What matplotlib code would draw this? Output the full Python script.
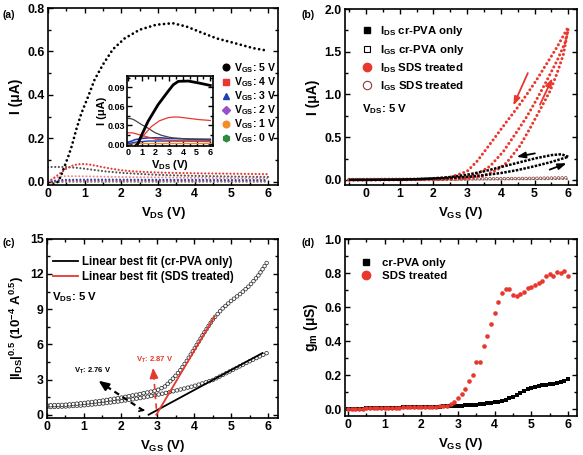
import numpy as np
import matplotlib
matplotlib.use('Agg')
import matplotlib.pyplot as plt
from matplotlib.lines import Line2D
from matplotlib.ticker import MultipleLocator, FormatStrFormatter

plt.rcParams['font.family'] = ['Liberation Sans', 'DejaVu Sans']
plt.rcParams['font.weight'] = 'bold'
plt.rcParams['axes.labelweight'] = 'bold'
plt.rcParams['mathtext.fontset'] = 'custom'
plt.rcParams['mathtext.rm'] = 'Liberation Sans:bold'
plt.rcParams['mathtext.it'] = 'Liberation Sans:bold'
plt.rcParams['mathtext.bf'] = 'Liberation Sans:bold'
plt.rcParams['lines.scale_dashes'] = False

RED = '#e8372c'

# ---- (a) output curves, I vs V_DS ----
a_vds_5 = [0.15, 0.25, 0.35, 0.45, 0.55, 0.65, 0.77, 0.91, 1.09, 1.27, 1.5, 1.77, 2.09, 2.5, 2.95, 3.4, 3.77, 4.14, 4.6, 5.05, 5.6, 6.0]
a_i_5 = [-0.012, -0.004, 0.025, 0.07, 0.115, 0.165, 0.24, 0.315, 0.39, 0.47, 0.54, 0.61, 0.66, 0.70, 0.723, 0.73, 0.715, 0.69, 0.66, 0.64, 0.615, 0.603]
a_vds_4 = [0.0, 0.1, 0.27, 0.5, 0.7, 0.91, 1.1, 1.3, 1.5, 1.73, 2.0, 2.3, 2.64, 3.1, 4.0, 5.0, 6.0]
a_i_4 = [0.005, 0.01, 0.031, 0.06, 0.077, 0.082, 0.08, 0.074, 0.067, 0.06, 0.053, 0.048, 0.045, 0.042, 0.039, 0.037, 0.035]
a_vds_g = [0.0, 0.5, 0.8, 1.0, 1.27, 1.6, 2.1, 2.6, 3.1, 4.0, 5.0, 6.0]
a_i_g = [0.068, 0.068, 0.064, 0.06, 0.054, 0.047, 0.04, 0.035, 0.031, 0.027, 0.024, 0.022]
a_vds_low = [0.0, 0.15, 0.3, 0.5, 1.0, 2.0, 3.0, 4.0, 5.0, 6.0]
a_i_pink = [0.0, 0.015, 0.024, 0.026, 0.025, 0.022, 0.02, 0.018, 0.016, 0.015]
a_i_3 = [0.0, 0.004, 0.008, 0.009, 0.01, 0.01, 0.009, 0.009, 0.008, 0.008]
a_i_2 = [0.0, 0.002, 0.004, 0.005, 0.005, 0.005, 0.005, 0.004, 0.004, 0.004]
a_i_1 = [0.0, 0.001, 0.001, 0.002, 0.002, 0.002, 0.002, 0.002, 0.002, 0.002]
a_i_0 = [-0.002, -0.001, -0.001, 0.0, 0.0, 0.0, 0.0, 0.0, 0.0, 0.0]
a_labels = ['5', '4', '3', '2', '1', '0']

# inset
in_vds_k = [0.7, 0.75, 1.0, 1.47, 2.2, 2.94, 3.3, 3.67, 4.4, 5.13, 6.0]
in_i_k = [0.0, 0.0016, 0.014, 0.036, 0.0625, 0.084, 0.094, 0.0995, 0.1, 0.097, 0.093]
in_vds_r = [0.7, 1.0, 1.72, 2.3, 2.94, 3.3, 3.67, 4.4, 5.13, 6.0]
in_i_r = [0.0, 0.01, 0.028, 0.037, 0.042, 0.043, 0.043, 0.041, 0.039, 0.0375]
in_vds_f = [0.0, 0.3, 0.5, 1.0, 1.5, 1.7, 2.0, 2.45, 3.0, 3.4, 4.5, 6.0]
in_i_kf = [0.041, 0.040, 0.038, 0.031, 0.025, 0.022, 0.018, 0.014, 0.011, 0.0095, 0.008, 0.008]
in_i_rf = [0.018, 0.018, 0.017, 0.014, 0.011, 0.010, 0.008, 0.007, 0.006, 0.006, 0.005, 0.004]
in_i_b1 = [0.003, 0.005, 0.007, 0.009, 0.010, 0.010, 0.010, 0.010, 0.009, 0.009, 0.008, 0.007]
in_i_b2 = [0.001, 0.002, 0.003, 0.004, 0.005, 0.005, 0.005, 0.005, 0.005, 0.005, 0.005, 0.005]
in_i_o = [0.0, 0.001, 0.001, 0.001, 0.001, 0.001, 0.001, 0.001, 0.001, 0.001, 0.001, 0.001]

# ---- (b) transfer curves ----
b_vgs_fwd_pva = [-0.5, 0.0, 1.0, 1.5, 2.0, 2.5, 3.0, 3.5, 4.0, 4.5, 5.0, 5.5, 6.0]
b_ids_fwd_pva = [0.0, 0.0, 0.003, 0.008, 0.015, 0.022, 0.035, 0.055, 0.08, 0.115, 0.16, 0.21, 0.27]
b_vgs_rev_pva = [6.0, 5.8, 5.5, 5.0, 4.5, 4.0, 3.5, 3.0, 2.5, 2.0, 1.5, 1.0, 0.0, -0.5]
b_ids_rev_pva = [0.27, 0.30, 0.29, 0.25, 0.20, 0.15, 0.10, 0.06, 0.033, 0.018, 0.008, 0.003, 0.0, 0.0]
b_vgs_red1 = [-0.5, 2.0, 2.5, 3.0, 3.3, 3.7, 4.17, 4.5, 4.77, 5.06, 5.36, 5.66, 5.9, 6.0]
b_ids_red1 = [0.0, 0.005, 0.03, 0.10, 0.22, 0.43, 0.68, 0.85, 1.0, 1.17, 1.36, 1.55, 1.72, 1.79]
b_vgs_red2 = [-0.5, 2.5, 3.0, 3.3, 3.68, 4.07, 4.47, 4.77, 5.06, 5.36, 5.66, 5.9, 6.0]
b_ids_red2 = [0.0, 0.005, 0.03, 0.07, 0.16, 0.33, 0.56, 0.74, 0.94, 1.16, 1.39, 1.6, 1.77]
b_vgs_red3 = [-0.5, 2.5, 3.0, 3.5, 3.9, 4.17, 4.57, 4.86, 5.16, 5.46, 5.66, 5.85, 6.0]
b_ids_red3 = [0.0, 0.003, 0.015, 0.05, 0.12, 0.2, 0.4, 0.6, 0.82, 1.04, 1.24, 1.46, 1.77]
b_vgs_gate = [-0.5, 1.0, 2.0, 3.0, 4.0, 5.0, 6.0]
b_igs_pva = [0.0, 0.0, 0.002, 0.004, 0.006, 0.008, 0.01]
b_igs_sds = [0.005, 0.007, 0.009, 0.012, 0.015, 0.019, 0.025]

# ---- (c) sqrt(I_DS) vs V_GS ----
c_vgs_sds = [0.0, 0.5, 1.0, 1.5, 2.0, 2.5, 2.8, 3.0, 3.2, 3.4, 3.6, 3.8, 4.0, 4.25, 4.5, 4.75, 5.0, 5.25, 5.5, 5.75, 6.0]
c_sds = [0.8, 0.85, 1.0, 1.2, 1.45, 1.75, 1.95, 2.1, 2.4, 3.0, 3.7, 4.6, 5.6, 6.9, 8.1, 9.0, 9.7, 10.3, 11.0, 11.9, 13.1]
c_vgs_pva = [0.0, 0.5, 1.0, 1.5, 2.0, 2.5, 3.0, 3.5, 4.0, 4.5, 5.0, 5.5, 6.0]
c_pva = [0.65, 0.7, 0.8, 0.95, 1.15, 1.4, 1.7, 2.05, 2.45, 2.95, 3.75, 4.55, 5.3]
vt_pva, slope_pva, end_pva = 2.76, 1.7, 5.85
vt_sds, slope_sds, end_sds = 2.97, 5.3, 4.55

# ---- (d) transconductance ----
d_vgs = np.round(np.arange(61) * 0.1, 1)
d_pva = [0.000, 0.000, 0.002, 0.003, 0.004, 0.005, 0.005, 0.006, 0.006, 0.007,
         0.007, 0.008, 0.008, 0.009, 0.009, 0.010, 0.010, 0.011, 0.011, 0.012,
         0.012, 0.013, 0.013, 0.014, 0.014, 0.015, 0.016, 0.017, 0.018, 0.019,
         0.020, 0.021, 0.022, 0.024, 0.025, 0.027, 0.029, 0.031, 0.034, 0.037,
         0.041, 0.045, 0.050, 0.056, 0.063, 0.072, 0.082, 0.095, 0.108, 0.118,
         0.126, 0.132, 0.136, 0.140, 0.143, 0.146, 0.150, 0.155, 0.161, 0.168,
         0.176]
d_sds = [0.000, 0.001, 0.002, 0.003, 0.004, 0.005, 0.005, 0.006, 0.006, 0.007,
         0.007, 0.008, 0.008, 0.009, 0.009, 0.010, 0.010, 0.011, 0.012, 0.012,
         0.013, 0.013, 0.014, 0.014, 0.015, 0.016, 0.017, 0.020, 0.028, 0.042,
         0.065, 0.090, 0.120, 0.165, 0.200, 0.280, 0.278, 0.370, 0.430, 0.500,
         0.565, 0.632, 0.680, 0.706, 0.708, 0.672, 0.668, 0.675, 0.690, 0.715,
         0.718, 0.728, 0.742, 0.755, 0.780, 0.796, 0.782, 0.806, 0.800, 0.810,
         0.780]


def dotted(ax, x, y, color, size, pitch, shape='round', zorder=2):
    on = 0.01 if shape == 'round' else size
    ax.plot(x, y, color=color, lw=size, ls=(0, (on, pitch - on)),
            dash_capstyle='round' if shape == 'round' else 'butt', zorder=zorder)


def rings(ax, x, y, color, size, pitch, edge=0.5, zorder=2):
    dotted(ax, x, y, color, size, pitch, zorder=zorder)
    dotted(ax, x, y, 'white', size - 2 * edge, pitch, zorder=zorder)


def style(ax, xlim, ylim, xmaj, ymaj, yfmt, lsize=8.8):
    ax.set_xlim(*xlim)
    ax.set_ylim(*ylim)
    ax.xaxis.set_major_locator(MultipleLocator(xmaj))
    ax.xaxis.set_minor_locator(MultipleLocator(xmaj / 2))
    ax.yaxis.set_major_locator(MultipleLocator(ymaj))
    ax.yaxis.set_minor_locator(MultipleLocator(ymaj / 2))
    ax.yaxis.set_major_formatter(FormatStrFormatter(yfmt))
    ax.tick_params(which='both', direction='in', top=True, right=True, labelsize=lsize, width=1)
    ax.tick_params(which='major', length=3.5, pad=2.5)
    ax.tick_params(which='minor', length=2)
    for s in ax.spines.values():
        s.set_linewidth(1.2)


fig = plt.figure(figsize=(5.83, 4.55), dpi=100)
ax_a = fig.add_axes([0.0823, 0.5934, 0.3945, 0.389])
ax_b = fig.add_axes([0.5918, 0.5934, 0.398, 0.3868])
ax_c = fig.add_axes([0.0806, 0.0813, 0.396, 0.394])
ax_d = fig.add_axes([0.5918, 0.0857, 0.398, 0.389])

# ---------- (a) ----------
ax = ax_a
for y, c in [(a_i_0, '#2e8b3e'), (a_i_1, '#f28c28'), (a_i_2, '#9b4fc4'), (a_i_3, '#1f3fb5')]:
    dotted(ax, a_vds_low, y, c, 1.5, 2.6)
dotted(ax, a_vds_low, a_i_pink, '#f08a80', 1.5, 2.6)
dotted(ax, a_vds_g, a_i_g, '#555555', 1.6, 2.6)
dotted(ax, a_vds_4, a_i_4, RED, 1.6, 2.6)
dotted(ax, a_vds_5, a_i_5, 'black', 2.0, 3.4)
style(ax, (0, 6.27), (-0.015, 0.8), 1, 0.2, '%.1f')
ax.set_xlabel('V$_{DS}$ (V)', fontsize=9.5, labelpad=3)
ax.set_ylabel('I (\u03bcA)', fontsize=10, labelpad=3)
mk = ['o', 's', '^', 'D', 'o', 'h']
cols = ['black', RED, '#1f3fb5', '#9b4fc4', '#f28c28', '#2e8b3e']
hs = [Line2D([], [], ls='none', marker=m, color=c, ms=4.8 if m != 'D' else 4) for m, c in zip(mk, cols)]
ax.legend(hs, ['V$_{GS}$: %s V' % v for v in a_labels], loc='upper left',
          bbox_to_anchor=(0.755, 0.70), frameon=False, fontsize=7.6, handlelength=0.8,
          handletextpad=0.35, labelspacing=0.03, borderpad=0, borderaxespad=0)

ins = fig.add_axes([0.218, 0.679, 0.1475, 0.154])
ins.plot(in_vds_f, in_i_o, color='#f28c28', lw=1)
ins.plot(in_vds_f, in_i_b2, color='#1f3fb5', lw=1)
ins.plot(in_vds_f, in_i_b1, color='#1f3fb5', lw=1.2)
ins.plot(in_vds_f, in_i_rf, color=RED, lw=0.9)
ins.plot(in_vds_f, in_i_kf, color='#444444', lw=0.9)
ins.plot(in_vds_r, in_i_r, color=RED, lw=0.9)
ins.plot(in_vds_k, in_i_k, color='black', lw=2)
style(ins, (-0.05, 6.2), (-0.003, 0.108), 1, 0.03, '%.2f', lsize=6.5)
ins.yaxis.set_minor_locator(MultipleLocator(0.015))
ins.tick_params(which='both', pad=1.5)
ins.set_xlabel('V$_{DS}$ (V)', fontsize=8, labelpad=0.5)
ins.set_ylabel('I (\u03bcA)', fontsize=8, labelpad=0.5)

# ---------- (b) ----------
ax = ax_b
dotted(ax, b_vgs_gate, b_igs_pva, '#777777', 1.4, 2.6, shape='square')
rings(ax, b_vgs_gate, b_igs_sds, '#8b3a3a', 2.4, 2.6, edge=0.5)
dotted(ax, b_vgs_red1, b_ids_red1, RED, 2.2, 3.2)
dotted(ax, b_vgs_red2, b_ids_red2, RED, 2.2, 3.2)
dotted(ax, b_vgs_red3, b_ids_red3, RED, 2.2, 3.2)
dotted(ax, b_vgs_fwd_pva, b_ids_fwd_pva, 'black', 1.8, 2.8, shape='square')
dotted(ax, b_vgs_rev_pva, b_ids_rev_pva, 'black', 1.8, 2.8, shape='square')
style(ax, (-0.62, 6.26), (-0.06, 2.0), 1, 0.5, '%.1f')
ax.set_xlabel('V$_{GS}$ (V)', fontsize=9.5, labelpad=3)
ax.set_ylabel('I (\u03bcA)', fontsize=10, labelpad=3)
arr = dict(arrowstyle='-|>,head_length=0.5,head_width=0.18', lw=1.3, shrinkA=0, shrinkB=0)
ax.annotate('', xy=(4.37, 0.87), xytext=(4.8, 1.25), arrowprops=dict(color=RED, **arr))
ax.annotate('', xy=(5.53, 1.19), xytext=(5.16, 0.88), arrowprops=dict(color=RED, **arr))
ax.annotate('', xy=(4.47, 0.27), xytext=(5.01, 0.31), arrowprops=dict(color='black', **arr))
ax.annotate('', xy=(5.95, 0.195), xytext=(5.45, 0.12), arrowprops=dict(color='black', **arr))
hs = [Line2D([], [], ls='none', marker='s', color='black', ms=5),
      Line2D([], [], ls='none', marker='s', mfc='white', mec='black', ms=5, mew=0.8),
      Line2D([], [], ls='none', marker='o', color=RED, ms=6),
      Line2D([], [], ls='none', marker='o', mfc='white', mec='#8b3a3a', ms=6, mew=0.8)]
ax.legend(hs, ['I$_{DS}$ cr-PVA only', 'I$_{GS}$ cr-PVA only', 'I$_{DS}$ SDS treated', 'I$_{GS}$ SDS treated'],
          loc='upper left', bbox_to_anchor=(0.075, 0.915), frameon=False, fontsize=8.2,
          handlelength=0.8, handletextpad=0.7, labelspacing=0.4, borderpad=0, borderaxespad=0)
ax.text(0.073, 0.43, 'V$_{DS}$: 5 V', transform=ax.transAxes, fontsize=8.2, va='center')

# ---------- (c) ----------
ax = ax_c
rings(ax, c_vgs_pva, c_pva, '#333333', 3.2, 2.7, edge=0.55)
rings(ax, c_vgs_sds, c_sds, '#333333', 3.2, 2.7, edge=0.55)
ax.plot([vt_pva, end_pva], [0, slope_pva * (end_pva - vt_pva)], color='black', lw=1.3, zorder=3)
ax.plot([vt_sds, end_sds], [0, slope_sds * (end_sds - vt_sds)], color=RED, lw=1.3, zorder=3)
ax.plot([2.62, 1.55], [0.35, 2.55], color='black', lw=1.6, ls=(0, (4, 3)), zorder=3)
ax.annotate('', xy=(1.4, 2.9), xytext=(1.6, 2.45),
            arrowprops=dict(arrowstyle='-|>,head_length=0.6,head_width=0.25', color='black', lw=1.5, shrinkA=0, shrinkB=0))
ax.plot([2.62, 2.5], [0.4, 0.3], color='black', lw=1.2, zorder=3)
ax.plot([2.97, 2.9], [0.5, 3.3], color=RED, lw=1.2, ls=(0, (4, 3)), zorder=3)
ax.annotate('', xy=(2.88, 4.0), xytext=(2.9, 3.3),
            arrowprops=dict(arrowstyle='-|>,head_length=0.6,head_width=0.25', color=RED, lw=1.2, shrinkA=0, shrinkB=0))
ax.text(0.72, 3.75, 'V$_T$: 2.76 V', fontsize=5.5, va='center', ha='left')
ax.text(2.43, 4.7, 'V$_T$: 2.87 V', fontsize=5.5, va='center', ha='left', color=RED)
style(ax, (0, 6.27), (-0.28, 15), 1, 3, '%d')
ax.set_xlabel('V$_{GS}$ (V)', fontsize=9.5, labelpad=3)
ax.set_ylabel('|I$_{DS}$|$^{0.5}$ (10$^{-4}$ A$^{0.5}$)', fontsize=9.5, labelpad=3)
hs = [Line2D([], [], color='black', lw=1.3), Line2D([], [], color=RED, lw=1.3)]
ax.legend(hs, ['Linear best fit (cr-PVA only)', 'Linear best fit (SDS treated)'],
          loc='upper left', bbox_to_anchor=(0.025, 0.905), frameon=False, fontsize=8.3,
          handlelength=2.2, handletextpad=0.3, labelspacing=0.25, borderpad=0, borderaxespad=0)
ax.text(0.022, 0.676, 'V$_{DS}$: 5 V', transform=ax.transAxes, fontsize=8.2, va='center')

# ---------- (d) ----------
ax = ax_d
ax.plot(d_vgs, d_pva, ls='none', marker='s', ms=2.6, color='black', mew=0)
ax.plot(d_vgs, d_sds, ls='none', marker='o', ms=3.3, color=RED, mew=0)
style(ax, (-0.08, 6.25), (-0.04, 1.0), 1, 0.2, '%.1f')
ax.set_xlabel('V$_{GS}$ (V)', fontsize=9.5, labelpad=3)
ax.set_ylabel('g$_m$ (\u03bcS)', fontsize=10, labelpad=3)
hs = [Line2D([], [], ls='none', marker='s', color='black', ms=5),
      Line2D([], [], ls='none', marker='o', color=RED, ms=6)]
ax.legend(hs, ['cr-PVA only', 'SDS treated'], loc='upper left', bbox_to_anchor=(0.07, 0.895),
          frameon=False, fontsize=8.2, handlelength=0.8, handletextpad=1.0, labelspacing=0.3,
          borderpad=0, borderaxespad=0)

for t, x, y in [('(a)', 0.005, 0.967), ('(b)', 0.518, 0.967), ('(c)', 0.005, 0.466), ('(d)', 0.518, 0.466)]:
    fig.text(x, y, t, fontsize=7.5, va='center')

fig.savefig('out.png', dpi=100)
